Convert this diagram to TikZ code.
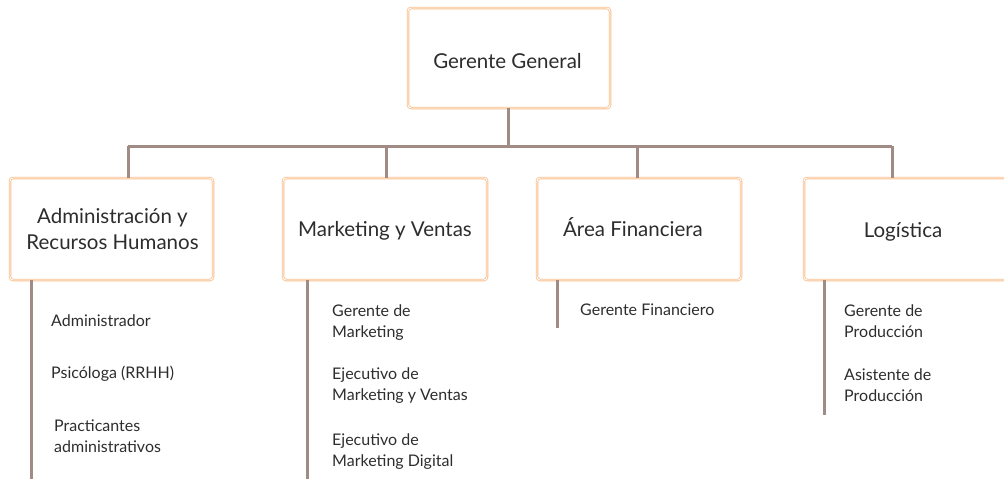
\documentclass[tikz,border=0pt]{standalone}
\usepackage{fontspec}
\setmainfont{Lato}
\definecolor{boxc}{RGB}{250,190,140}
\definecolor{linec}{RGB}{160,140,132}
\definecolor{txt}{RGB}{45,45,45}
\begin{document}
\begin{tikzpicture}[x=1pt,y=-1pt,
  unit/.style={draw=boxc, line width=0.8pt, double=white, double distance=0.9pt, rounded corners=3pt, fill=white, inner sep=0pt},
  head/.style={anchor=base, text=txt, font=\fontsize{20.5}{26}\selectfont, align=center, inner sep=0pt},
  conn/.style={draw=linec, line width=3pt},
  sub/.style={anchor=base west, text=txt, font=\fontsize{16}{21}\selectfont, align=left, inner sep=0pt}]
\useasboundingbox (0,0) rectangle (1004,479);
% boxes
\node[unit, minimum width=202pt, minimum height=100pt] (gg) at (509,58) {};
\node[unit, minimum width=203pt, minimum height=102pt] (ad) at (111.5,229) {};
\node[unit, minimum width=204pt, minimum height=102pt] (mk) at (385,229) {};
\node[unit, minimum width=204pt, minimum height=102pt] (fi) at (639,229) {};
\node[unit, minimum width=204pt, minimum height=102pt] (lo) at (906,229) {};
\node[head] (tgg) at (507.5,68) {Gerente General};
\node[head] (tad) at (112.5,249) {Administración y\\Recursos Humanos};
\node[head] (tmk) at (385,236) {Marketing y Ventas};
\node[head] (tfi) at (633,236) {Área Financiera};
\node[head] (tlo) at (903,237) {Logística};
% connectors
\coordinate (h0) at (508,146);
\coordinate (h1) at (128,146);
\coordinate (h2) at (386,146);
\coordinate (h3) at (637,146);
\coordinate (h4) at (892,146);
\draw[conn] (gg.south -| h0) -- (h0);
\draw[conn] (h1) -- (h4);
\draw[conn] (h1) -- (h1 |- ad.north);
\draw[conn] (h2) -- (h2 |- mk.north);
\draw[conn] (h3) -- (h3 |- fi.north);
\draw[conn] (h4) -- (h4 |- lo.north);
\coordinate (e1) at (31,481);
\coordinate (e2) at (307,481);
\coordinate (e3) at (557,328);
\coordinate (e4) at (824,415);
\draw[conn] (e1 |- ad.south) -- (e1);
\draw[conn] (e2 |- mk.south) -- (e2);
\draw[conn] (e3 |- fi.south) -- (e3);
\draw[conn] (e4 |- lo.south) -- (e4);
% subordinates
\node[sub] (a1) at (51,326) {Administrador};
\node[sub] (a2) at (51,378) {Psicóloga (RRHH)};
\node[sub] (a3) at (54,452) {Practicantes\\administrativos};
\node[sub] (m1) at (332,337) {Gerente de\\Marketing};
\node[sub] (m2) at (332,400) {Ejecutivo de\\Marketing y Ventas};
\node[sub] (m3) at (332,466) {Ejecutivo de\\Marketing Digital};
\node[sub] (f1) at (580,315) {Gerente Financiero};
\node[sub] (l1) at (844,337) {Gerente de\\Producción};
\node[sub] (l2) at (844,401) {Asistente de\\Producción};
\end{tikzpicture}
\end{document}
